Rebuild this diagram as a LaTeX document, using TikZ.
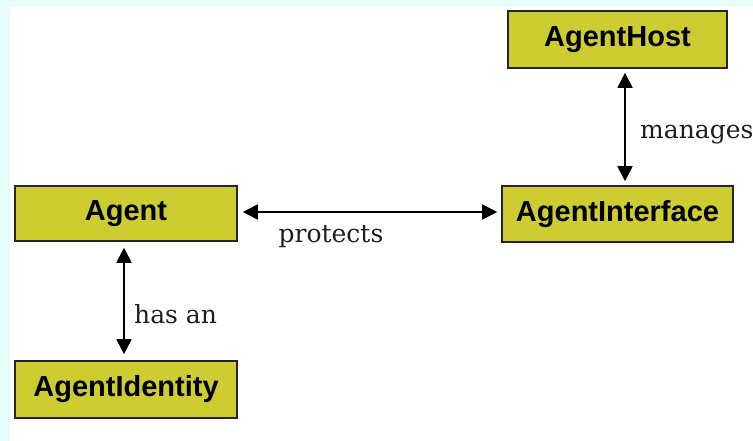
\documentclass[tikz,border=0pt]{standalone}
\usepackage{fontspec}
\setmainfont{Liberation Sans}
\newfontfamily\labelfont{DejaVu Serif}
\usetikzlibrary{arrows.meta}
\definecolor{boxfill}{RGB}{205,205,50}
\definecolor{bgcyan}{RGB}{232,252,252}
\definecolor{labgray}{RGB}{30,30,30}
\tikzset{
  classbox/.style={draw=black!85, line width=1.6pt, fill=boxfill, inner sep=0pt,
    font=\fontsize{29}{34}\selectfont\bfseries, text=black},
  relarrow/.style={line width=1.8pt, black,
    {Triangle[length=15pt,width=15pt]}-{Triangle[length=15pt,width=15pt]}},
  rellabel/.style={font=\labelfont\fontsize{25}{29}\selectfont, text=labgray, inner sep=0pt}
}
\begin{document}
\begin{tikzpicture}[x=1pt,y=-1pt]
\useasboundingbox (0,0) rectangle (753,441);
\fill[bgcyan] (0,0) rectangle (753,441);
\fill[white] (10,7) rectangle (753,441);
\node[classbox, minimum width=219pt, minimum height=57pt] (host) at (617.5,39.5) {AgentHost};
\node[classbox, minimum width=231pt, minimum height=56pt] (iface) at (617.5,214) {AgentInterface};
\node[classbox, minimum width=222pt, minimum height=55pt] (agent) at (126,213.5) {Agent};
\node[classbox, minimum width=222pt, minimum height=57pt] (ident) at (126,389.5) {AgentIdentity};
\coordinate (pstart) at ([shift={(5,-1.5)}]agent.east);
\draw[relarrow] ([shift={(7.5,4)}]host.south) -- ([shift={(7.5,-4)}]iface.north);
\draw[relarrow] (pstart) -- ([xshift=-4]iface.west |- pstart);
\draw[relarrow] ([shift={(-2,6)}]agent.south) -- ([shift={(-2,-6)}]ident.north);
\node[rellabel] (lprot) at (331,237) {protects};
\node[rellabel, anchor=west] (lhas) at (134,314) {has an};
\node[rellabel, anchor=west] (lman) at (640,135) {manages};
\end{tikzpicture}
\end{document}
